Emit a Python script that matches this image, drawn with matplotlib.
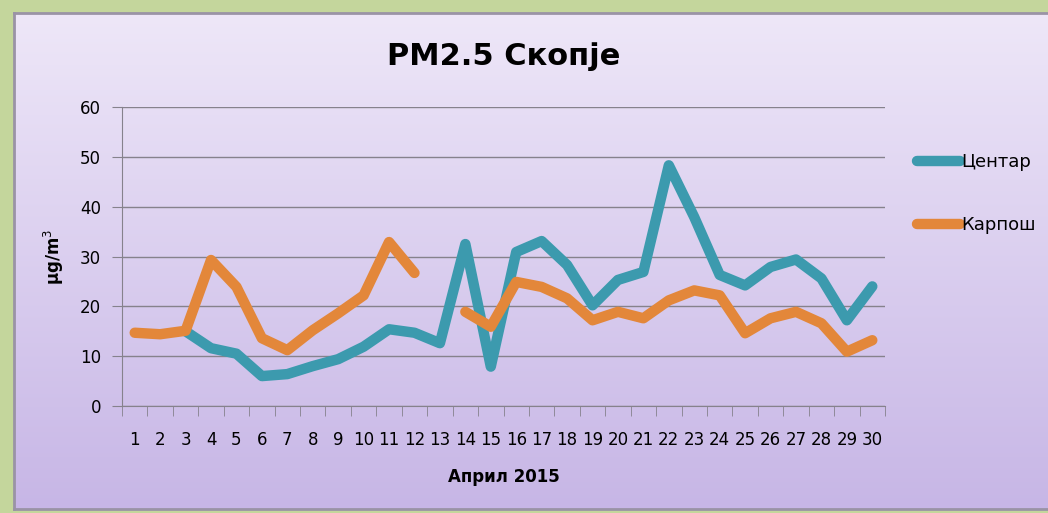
import matplotlib.pyplot as plt
import numpy as np

days = list(range(1, 31))
centar = [np.nan, np.nan, 15.0, 11.6, 10.5, 6.0, 6.4, 8.0, 9.4, 11.9,
          15.4, 14.7, 12.6, 32.5, 7.9, 30.9, 33.1, 28.3, 20.2, 25.3,
          26.9, 48.3, 37.9, 26.3, 24.2, 27.9, 29.4, 25.6, 17.2, 24.0]
karposh = [14.7, 14.4, 15.1, 29.3, 23.9, 13.6, 11.2, 15.2, 18.6, 22.2,
           32.9, 26.7, np.nan, 18.9, 15.9, 24.9, 23.9, 21.6, 17.2, 18.9,
           17.6, 21.2, 23.2, 22.2, 14.6, 17.6, 18.9, 16.6, 10.9, 13.2]

W, H = 1048, 513
fig = plt.figure(figsize=(W / 100, H / 100), dpi=100)
fig.patch.set_facecolor("#c4d69c")

# chart panel with vertical gradient
bg = fig.add_axes([14 / W, 1 - 509 / H, (W - 14) / W + 0.01, (509 - 13) / H])
top = np.array([238, 231, 248]) / 255
bot = np.array([199, 182, 230]) / 255
t = np.linspace(0, 1, 256)[:, None]
grad = (top * (1 - t) + bot * t)[:, None, :]
bg.imshow(grad, aspect="auto", extent=[0, 1, 0, 1])
bg.set_xlim(0, 1)
bg.set_ylim(0, 1)
bg.set_xticks([])
bg.set_yticks([])
for s in bg.spines.values():
    s.set_color("#9a93a6")
    s.set_linewidth(2)

ax = fig.add_axes([122 / W, 1 - 406 / H, (885 - 122) / W, (406 - 107) / H])
ax.patch.set_alpha(0)

blue = "#3c9aae"
orange = "#e3873a"
ax.plot(days, centar, color=blue, lw=7.5, solid_capstyle="round",
        solid_joinstyle="round", label="Центар")
ax.plot(days, karposh, color=orange, lw=7.5, solid_capstyle="round",
        solid_joinstyle="round", label="Карпош")

ax.set_xlim(0.5, 30.5)
ax.set_ylim(0, 60)
ax.set_yticks(range(0, 61, 10))
ax.yaxis.grid(True, color="#86828c", lw=1)
ax.set_axisbelow(True)
ax.set_xticks(days)
ax.set_xticklabels([str(d) for d in days], fontsize=12)
ax.set_xticks(np.arange(0.5, 31, 1), minor=True)
ax.tick_params(axis="x", which="major", length=0, pad=18)
ax.tick_params(axis="x", which="minor", length=7, color="#86828c", direction="out")
ax.tick_params(axis="y", length=7, color="#86828c", labelsize=12, pad=8)
for s in ["top", "right"]:
    ax.spines[s].set_visible(False)
for s in ["left", "bottom"]:
    ax.spines[s].set_color("#86828c")

ax.set_title("PM2.5 Скопје", fontsize=22, fontweight="bold", pad=30)
ax.set_xlabel("Април 2015", fontsize=12, fontweight="bold", labelpad=14)
ax.set_ylabel("μg/m$^3$", fontsize=12, fontweight="bold", labelpad=10)

ax.legend(loc="upper left", bbox_to_anchor=(1.02, 0.9), frameon=False,
          fontsize=13, handlelength=2.4, handletextpad=0.1, labelspacing=2.5)

fig.savefig("out.png", dpi=100, facecolor=fig.get_facecolor())
